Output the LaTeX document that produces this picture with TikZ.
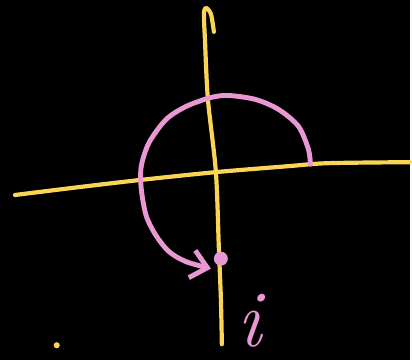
\documentclass[tikz,border=0pt]{standalone}
\usepackage{xcolor}
\usepackage{tikz}
\usetikzlibrary{positioning, arrows.meta}
\definecolor{axisyellow}{RGB}{250,212,85}
\definecolor{arcpink}{RGB}{233,152,212}

\begin{document}
\begin{tikzpicture}[x=0.02cm, y=-0.02cm, line cap=round, line join=round]
			\fill[black] (0,0) rectangle (412,362);
			
			% axes, drawn by hand
			\draw[axisyellow, line width=2.4pt] plot[smooth] coordinates {(15,196) (80,188) (140,181) (217,173) (290,167) (330,164) (412,163)};
			\draw[axisyellow, line width=2.4pt] plot[smooth] coordinates {(215,32) (212,14) (207,8) (205,14) (206,40) (209,100) (217,173) (220,250) (222,300) (223,346)};
			
			% turning by a quarter and a half
			\draw[arcpink, line width=2.8pt, -{Straight Barb[length=9pt, width=16pt, line width=2.8pt]}] plot[smooth] coordinates {(312,165) (310,150) (300,127) (280,110) (257,100) (230,96) (212,98) (187,107) (167,120) (150,143) (142,167) (142,190) (147,217) (157,237) (170,253) (187,263) (212,270)};
			\node[circle, fill=arcpink, inner sep=0pt, minimum size=8pt] (dot) at (222,260) {};
			\node[text=arcpink, font=\fontsize{46}{50}\selectfont\itshape] (lbl) at (251,322) {i};
			
			\node[circle, fill=axisyellow, inner sep=0pt, minimum size=3.5pt] (speck) at (57,347) {};
			\end{tikzpicture}
\end{document}
